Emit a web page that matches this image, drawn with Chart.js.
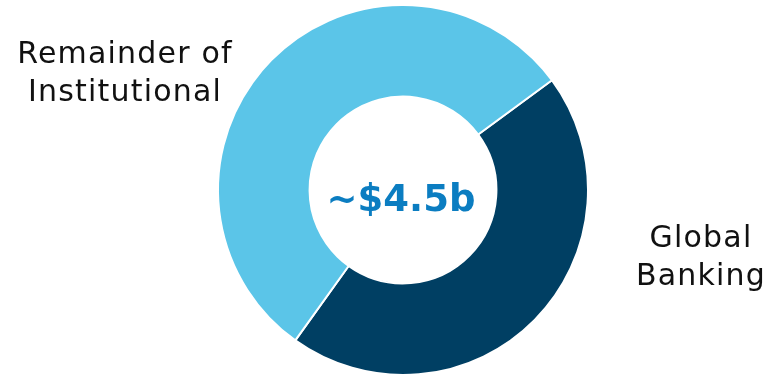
<!DOCTYPE html>
<html>
<head>
<meta charset="utf-8">
<script src="https://cdn.jsdelivr.net/npm/chart.js@4"></script>
<style>
  html, body { margin: 0; padding: 0; background: #fff; }
  #wrap { position: relative; width: 777px; height: 376px; }
</style>
</head>
<body>
<div id="wrap"><canvas id="revChart" width="777" height="376"></canvas></div>
<script>
const segments = ['Global Banking', 'Remainder of Institutional']
const shares = [45, 55]
const colours = ['#003f63', '#5bc5e8']
const totalLabel = '~$4.5b'

// side labels, one entry per line
const labelLines = {
  'Remainder of Institutional': { lines: ['Remainder of', 'Institutional'], x: 125, y: 63 },
  'Global Banking': { lines: ['Global', 'Banking'], x: 701, y: 247 },
}

const textPlugin = {
  id: 'donutText',
  afterDraw(chart) {
    const ctx = chart.ctx
    const arc = chart.getDatasetMeta(0).data[0]
    ctx.save()
    ctx.textAlign = 'center'
    ctx.textBaseline = 'alphabetic'

    // total in the hole
    ctx.fillStyle = '#0b7dc1'
    ctx.font = 'bold 37px "DejaVu Sans", Verdana, sans-serif'
    ctx.fillText(totalLabel, arc.x - 2, arc.y + 21)

    // segment names
    ctx.fillStyle = '#111'
    ctx.font = '30px "DejaVu Sans", Verdana, sans-serif'
    ctx.letterSpacing = '1.2px'
    segments.forEach(name => {
      const l = labelLines[name]
      l.lines.forEach((line, i) => ctx.fillText(line, l.x, l.y + i * 38))
    })
    ctx.restore()
  },
}

new Chart(document.getElementById('revChart'), {
  type: 'doughnut',
  data: {
    labels: segments,
    datasets: [
      {
        data: shares,
        backgroundColor: colours,
        borderColor: '#fff',
        borderWidth: 2,
      },
    ],
  },
  options: {
    responsive: false,
    animation: false,
    cutout: '50.5%',
    rotation: 53.6,
    layout: { padding: { left: 217, right: 188, top: 4, bottom: 0 } },
    plugins: {
      legend: { display: false },
      tooltip: { enabled: false },
    },
  },
  plugins: [textPlugin],
})
</script>
</body>
</html>
